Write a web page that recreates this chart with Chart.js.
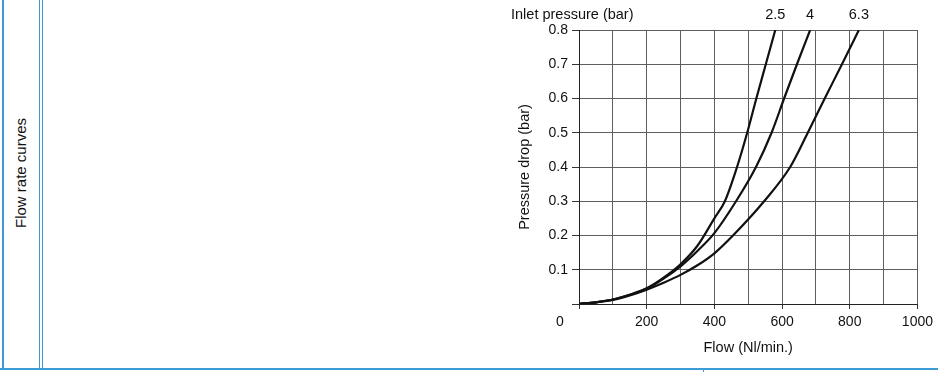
<!DOCTYPE html>
<html>
<head>
<meta charset="utf-8">
<script src="https://cdn.jsdelivr.net/npm/chart.js@4/dist/chart.umd.min.js"></script>
<style>
  html, body { margin: 0; padding: 0; background: #fff; }
  body { width: 938px; height: 372px; position: relative; overflow: hidden;
         font-family: "Liberation Sans", Arial, sans-serif; }
  .vline { position: absolute; top: 0; width: 2px; height: 370px; background: #3d9bd8; }
  .hline { position: absolute; left: 0; top: 368px; width: 938px; height: 2px; background: #3d9bd8; }
  .stub { position: absolute; left: 703px; top: 368px; width: 1px; height: 4px; background: #3d9bd8; }
  .side { position: absolute; left: 20px; top: 173px; transform: translate(-50%, -50%) rotate(-90deg);
          font-size: 15px; color: #111; white-space: nowrap; }
  #wrap { position: absolute; left: 500px; top: 0; width: 438px; height: 372px; }
</style>
</head>
<body>
<div class="vline" style="left:2px"></div>
<div class="vline" style="left:39px;width:1px"></div>
<div class="vline" style="left:42px;width:1px"></div>
<div class="hline"></div>
<div class="stub"></div>
<div class="side">Flow rate curves</div>
<div id="wrap"><canvas id="c"></canvas></div>
<script>
  // inlet pressure curves: flow (Nl/min) vs pressure drop (bar)
  const flow25 = [0, 50, 100, 150, 200, 250, 300, 350, 400, 431, 467, 497, 524, 552, 580];
  const drop25 = [0, 0.005, 0.013, 0.027, 0.046, 0.077, 0.116, 0.17, 0.25, 0.3, 0.4, 0.5, 0.6, 0.7, 0.8];

  const flow4 = [0, 50, 100, 150, 200, 250, 300, 350, 400, 464, 523, 569, 606, 644, 683];
  const drop4 = [0, 0.005, 0.013, 0.027, 0.045, 0.074, 0.11, 0.155, 0.207, 0.3, 0.4, 0.5, 0.6, 0.7, 0.8];

  const flow63 = [0, 50, 100, 150, 200, 250, 300, 350, 400, 455, 547, 624, 676, 726, 777, 827];
  const drop63 = [0, 0.005, 0.012, 0.025, 0.042, 0.062, 0.085, 0.113, 0.148, 0.2, 0.3, 0.4, 0.5, 0.6, 0.7, 0.8];

  const seriesLabels = ['2.5', '4', '6.3'];
  const xTicks = [200, 400, 600, 800, 1000];
  const yTicks = [0.1, 0.2, 0.3, 0.4, 0.5, 0.6, 0.7, 0.8];

  const FONT = '"Liberation Sans", Arial, sans-serif';
  const INK = '#111';
  const GRID = '#5e5e5e';

  function pts(xs, ys) {
    return xs.map((x, i) => ({ x, y: ys[i] }));
  }

  function curve(label, xs, ys) {
    return {
      label,
      data: pts(xs, ys),
      borderColor: INK,
      borderWidth: 2.2,
      pointRadius: 0,
      fill: false,
      cubicInterpolationMode: 'monotone',
    };
  }

  // top annotations + the lone "0" at the corner
  const annotations = {
    id: 'annotations',
    afterDraw(chart) {
      const { ctx, scales: { x } } = chart;
      ctx.save();
      ctx.font = '14.5px ' + FONT;
      ctx.fillStyle = INK;
      ctx.textBaseline = 'middle';
      ctx.textAlign = 'left';
      ctx.fillText('Inlet pressure (bar)', 11, 15);
      ctx.textAlign = 'center';
      chart.data.datasets.forEach((ds) => {
        const last = ds.data[ds.data.length - 1];
        ctx.fillText(ds.label, x.getPixelForValue(last.x), 15);
      });
      ctx.font = '14px ' + FONT;
      ctx.fillText('0', x.left - 19, 322);
      ctx.restore();
    },
  };

  new Chart(document.getElementById('c').getContext('2d'), {
    type: 'line',
    data: {
      datasets: [
        curve(seriesLabels[0], flow25, drop25),
        curve(seriesLabels[1], flow4, drop4),
        curve(seriesLabels[2], flow63, drop63),
      ],
    },
    options: {
      responsive: true,
      maintainAspectRatio: false,
      animation: false,
      layout: { padding: { top: 30, right: 16, bottom: 0, left: 0 } },
      plugins: { legend: { display: false }, tooltip: { enabled: false } },
      scales: {
        x: {
          type: 'linear',
          min: 0,
          max: 1000,
          afterFit: (s) => { s.height = 68; },
          afterBuildTicks: (s) => {
            s.ticks = [];
            for (let v = 0; v <= 1000; v += 100) s.ticks.push({ value: v });
          },
          grid: {
            color: GRID,
            lineWidth: 1,
            tickLength: 5,
            tickColor: (c) => (c.tick && c.tick.value % 200 === 0 ? '#333' : 'transparent'),
          },
          border: { color: '#222', width: 1 },
          ticks: {
            color: INK,
            font: { family: FONT, size: 14 },
            padding: 5,
            maxRotation: 0,
            autoSkip: false,
            callback: (v) => (xTicks.includes(v) ? String(v) : ''),
          },
          title: {
            display: true,
            text: 'Flow (Nl/min.)',
            color: INK,
            font: { family: FONT, size: 14.5 },
            padding: { bottom: 15 },
          },
        },
        y: {
          min: 0,
          max: 0.8,
          afterFit: (s) => { s.width = 79; },
          afterBuildTicks: (s) => {
            s.ticks = [{ value: 0 }].concat(yTicks.map((v) => ({ value: v })));
          },
          grid: { color: GRID, lineWidth: 1, tickLength: 7, tickColor: '#333' },
          border: { color: '#222', width: 1 },
          ticks: {
            color: INK,
            font: { family: FONT, size: 14 },
            padding: 4,
            autoSkip: false,
            callback: (v) => (v === 0 ? '' : v.toFixed(1)),
          },
          title: {
            display: true,
            text: 'Pressure drop (bar)',
            color: INK,
            font: { family: FONT, size: 14.5 },
            padding: { top: 16 },
          },
        },
      },
    },
    plugins: [annotations],
  });
</script>
</body>
</html>
